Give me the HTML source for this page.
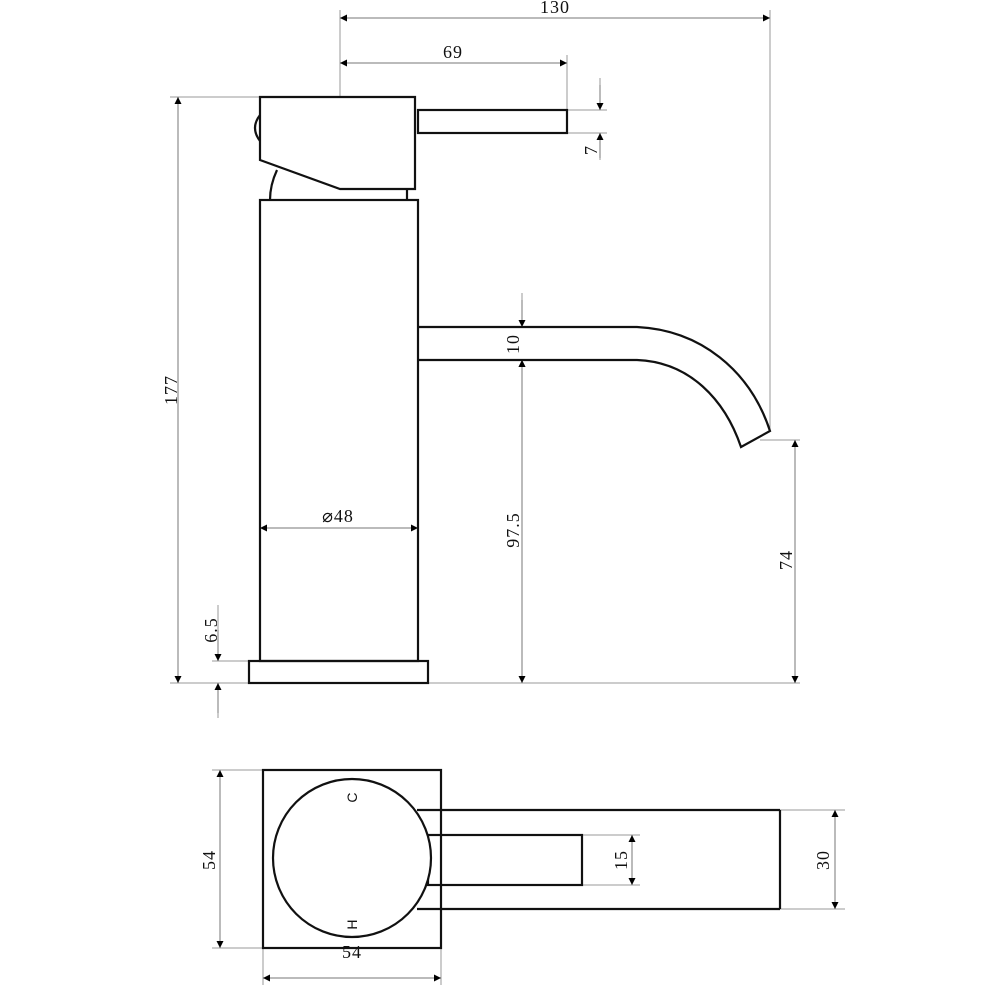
<!DOCTYPE html>
<html><head><meta charset="utf-8"><style>html,body{margin:0;padding:0;background:#fff}svg{display:block}</style></head>
<body>
<svg width="1000" height="1000" viewBox="0 0 1000 1000" xmlns="http://www.w3.org/2000/svg">
<defs>
<marker id="a" viewBox="0 0 10 10" refX="10" refY="5" markerWidth="7" markerHeight="14" markerUnits="userSpaceOnUse" orient="auto-start-reverse"><path d="M0,0 L10,5 L0,10 z" fill="#000"/></marker>
</defs>
<g stroke="#999" stroke-width="1" fill="none">
<line x1="340" y1="10" x2="340" y2="97"/><line x1="770" y1="10" x2="770" y2="431"/>
<line x1="567" y1="55" x2="567" y2="110"/>
<line x1="567" y1="110" x2="607" y2="110"/><line x1="567" y1="133" x2="607" y2="133"/>
<line x1="600" y1="78" x2="600" y2="110"/><line x1="600" y1="133" x2="600" y2="160"/>
<line x1="170" y1="97" x2="260" y2="97"/><line x1="170" y1="683" x2="800" y2="683"/>
<line x1="212" y1="661" x2="249" y2="661"/>
<line x1="218" y1="605" x2="218" y2="661"/><line x1="218" y1="683" x2="218" y2="718"/>
<line x1="522" y1="293" x2="522" y2="327"/>
<line x1="760" y1="440" x2="800" y2="440"/>
<line x1="212" y1="770" x2="263" y2="770"/><line x1="212" y1="948" x2="263" y2="948"/>
<line x1="263" y1="948" x2="263" y2="985"/><line x1="441" y1="948" x2="441" y2="985"/>
<line x1="582" y1="835" x2="640" y2="835"/><line x1="582" y1="885" x2="640" y2="885"/>
<line x1="780" y1="810" x2="845" y2="810"/><line x1="780" y1="909" x2="845" y2="909"/>
</g>
<g stroke="#777" stroke-width="1" fill="none" marker-start="url(#a)" marker-end="url(#a)">
<line x1="340" y1="18" x2="770" y2="18"/>
<line x1="340" y1="63" x2="567" y2="63"/>
<line x1="178" y1="97" x2="178" y2="683"/>
<line x1="260" y1="528" x2="418" y2="528"/>
<line x1="522" y1="360" x2="522" y2="683"/>
<line x1="795" y1="440" x2="795" y2="683"/>
<line x1="220" y1="770" x2="220" y2="948"/>
<line x1="263" y1="978" x2="441" y2="978"/>
<line x1="835" y1="810" x2="835" y2="909"/>
<line x1="632" y1="835" x2="632" y2="885"/>
</g>
<g stroke="#777" stroke-width="1" fill="none" marker-end="url(#a)">
<line x1="600" y1="85" x2="600" y2="110"/><line x1="600" y1="158" x2="600" y2="133"/>
<line x1="218" y1="630" x2="218" y2="661"/><line x1="218" y1="713" x2="218" y2="683"/>
<line x1="522" y1="300" x2="522" y2="327"/><line x1="522" y1="385" x2="522" y2="360"/>
</g>
<g stroke="#111" stroke-width="2.2" fill="none">
<path d="M260,97 L415,97 L415,189 L340,189 L260,160 Z"/>
<path d="M260,115 Q250,128 260,141"/>
<rect x="418" y="110" width="149" height="23"/>
<path d="M277,170 Q270,185 270,200"/>
<line x1="407" y1="189" x2="407" y2="200"/>
<rect x="260" y="200" width="158" height="461"/>
<rect x="249" y="661" width="179" height="22"/>
<path d="M418,327 L637,327 C700,330 750,370 770,431 L741,447 C725,400 690,362 637,360 L418,360"/>
<rect x="263" y="770" width="178" height="178"/>
<line x1="417" y1="810" x2="780" y2="810"/><line x1="417" y1="909" x2="780" y2="909"/>
<line x1="780" y1="810" x2="780" y2="909"/>
<rect x="428" y="835" width="154" height="50"/>
<circle cx="352" cy="858" r="79" fill="#fff"/>
</g>
<g font-family="Liberation Serif, serif" font-size="18" fill="#111" text-anchor="middle" letter-spacing="1">
<text x="555" y="13">130</text>
<text x="453" y="58">69</text>
<text x="338" y="522">⌀48</text>
<text x="352" y="958">54</text>
<text transform="translate(597,150) rotate(-90)">7</text>
<text transform="translate(177,390) rotate(-90)">177</text>
<text transform="translate(217,630) rotate(-90)">6.5</text>
<text transform="translate(519,344) rotate(-90)">10</text>
<text transform="translate(519,530) rotate(-90)">97.5</text>
<text transform="translate(792,560) rotate(-90)">74</text>
<text transform="translate(215,860) rotate(-90)">54</text>
<text transform="translate(627,860) rotate(-90)">15</text>
<text transform="translate(829,860) rotate(-90)">30</text>
<text transform="translate(357,797) rotate(-90)" font-family="Liberation Sans, sans-serif" font-size="14">C</text>
<text transform="translate(357,924) rotate(-90)" font-family="Liberation Sans, sans-serif" font-size="14">H</text>
</g>
</svg>
</body></html>
